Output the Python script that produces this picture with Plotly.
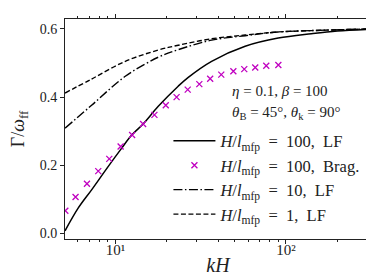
import plotly.graph_objects as go

# Data
kh_lf100 = [5.05, 6.04, 7.23, 9.06, 10.7, 12.4, 14.5, 17.8, 23.3, 26.7, 36.6, 57.6, 90.0, 141, 200, 315]
g_lf100 = [0.008, 0.075, 0.128, 0.197, 0.246, 0.288, 0.321, 0.373, 0.432, 0.458, 0.505, 0.549, 0.573, 0.586, 0.594, 0.599]

kh_brag = [5.07, 5.82, 6.79, 7.91, 9.18, 10.7, 12.5, 14.5, 16.9, 19.7, 22.8, 26.5, 31.0, 35.9, 41.7, 49.1, 56.9, 66.0, 76.6, 90.2]
g_brag = [0.067, 0.107, 0.146, 0.183, 0.219, 0.255, 0.289, 0.321, 0.348, 0.376, 0.400, 0.422, 0.438, 0.454, 0.466, 0.476, 0.482, 0.487, 0.492, 0.494]

kh_lf = [5.05, 7.23, 11.4, 17.8, 23.3, 36.6, 57.6, 90.0, 141, 315]
g_lf10 = [0.309, 0.376, 0.461, 0.517, 0.539, 0.567, 0.580, 0.591, 0.595, 0.600]
g_lf1 = [0.412, 0.453, 0.505, 0.538, 0.552, 0.571, 0.582, 0.591, 0.595, 0.600]

EN = "\u2002"
names = [
    "<i>H</i>/<i>l</i><sub>mfp</sub>" + EN + "=" + EN + "100," + EN + "LF",
    "<i>H</i>/<i>l</i><sub>mfp</sub>" + EN + "=" + EN + "100," + EN + "Brag.",
    "<i>H</i>/<i>l</i><sub>mfp</sub>" + EN + "=" + EN + "10," + EN + "LF",
    "<i>H</i>/<i>l</i><sub>mfp</sub>" + EN + "=" + EN + "1," + EN + "LF",
]
y_ticks = [0.0, 0.2, 0.4, 0.6]
y_ticktext = ["0.0", "0.2", "0.4", "0.6"]
x_ticks = [10, 100]
x_ticktext = ["10¹", "10²"]
x_minor = [6, 7, 8, 9, 20, 30, 40, 50, 60, 70, 80, 90, 200, 300]

FONT = "Liberation Serif"
INK = "#222222"

fig = go.Figure()
fig.add_trace(go.Scatter(x=kh_lf100, y=g_lf100, mode="lines", name=names[0],
                         line=dict(color="black", width=1.5, shape="spline")))
fig.add_trace(go.Scatter(x=kh_brag, y=g_brag, mode="markers", name=names[1],
                         marker=dict(symbol="x-thin", size=6, color="#c000c0",
                                     line=dict(color="#c000c0", width=1.3))))
fig.add_trace(go.Scatter(x=kh_lf, y=g_lf10, mode="lines", name=names[2],
                         line=dict(color="black", width=1.4, shape="spline",
                                   dash="9px,2.5px,1.5px,2.5px")))
fig.add_trace(go.Scatter(x=kh_lf, y=g_lf1, mode="lines", name=names[3],
                         line=dict(color="black", width=1.4, shape="spline",
                                   dash="5px,2.5px")))

fig.update_xaxes(type="log", range=[0.703, 2.499],
                 tickvals=x_ticks, ticktext=x_ticktext,
                 ticks="outside", ticklen=4, tickwidth=1, tickcolor=INK,
                 ticklabelstandoff=-7,
                 minor=dict(tickvals=x_minor, ticks="outside", ticklen=2, tickwidth=0.8, tickcolor=INK),
                 showline=True, linecolor=INK, linewidth=1, mirror="allticks",
                 showgrid=False, zeroline=False,
                 tickfont=dict(family=FONT, size=15, color=INK),
                 title=dict(text="<i>kH</i>", font=dict(family=FONT, size=20, color=INK), standoff=0))
fig.update_yaxes(range=[-0.016, 0.629],
                 tickvals=y_ticks, ticktext=y_ticktext,
                 ticks="outside", ticklen=4, tickwidth=1, tickcolor=INK,
                 showline=True, linecolor=INK, linewidth=1, mirror="allticks",
                 showgrid=False, zeroline=False,
                 tickfont=dict(family=FONT, size=14, color=INK),
                 title=dict(text="Γ/<i>ω</i><sub>ff</sub>", font=dict(family=FONT, size=18, color=INK), standoff=12))

fig.add_annotation(x=0.54, y=0.671, xref="paper", yref="paper", xanchor="left", yanchor="middle",
                   text="<i>η</i> = 0.1, <i>β</i> = 100", showarrow=False,
                   font=dict(family=FONT, size=15, color=INK))
fig.add_annotation(x=0.54, y=0.573, xref="paper", yref="paper", xanchor="left", yanchor="middle",
                   text="<i>θ</i><sub>B</sub> = 45°, <i>θ</i><sub>k</sub> = 90°", showarrow=False,
                   font=dict(family=FONT, size=15, color=INK))

fig.update_layout(
    width=374, height=280,
    margin=dict(l=57, r=11, t=11, b=49, autoexpand=False),
    paper_bgcolor="white", plot_bgcolor="white",
    legend=dict(x=0.338, y=0.525, xanchor="left", yanchor="top",
                bgcolor="rgba(0,0,0,0)", borderwidth=0,
                font=dict(family=FONT, size=16.5, color=INK),
                itemwidth=42, tracegroupgap=0),
    showlegend=True,
)

fig.write_html("out.html")
